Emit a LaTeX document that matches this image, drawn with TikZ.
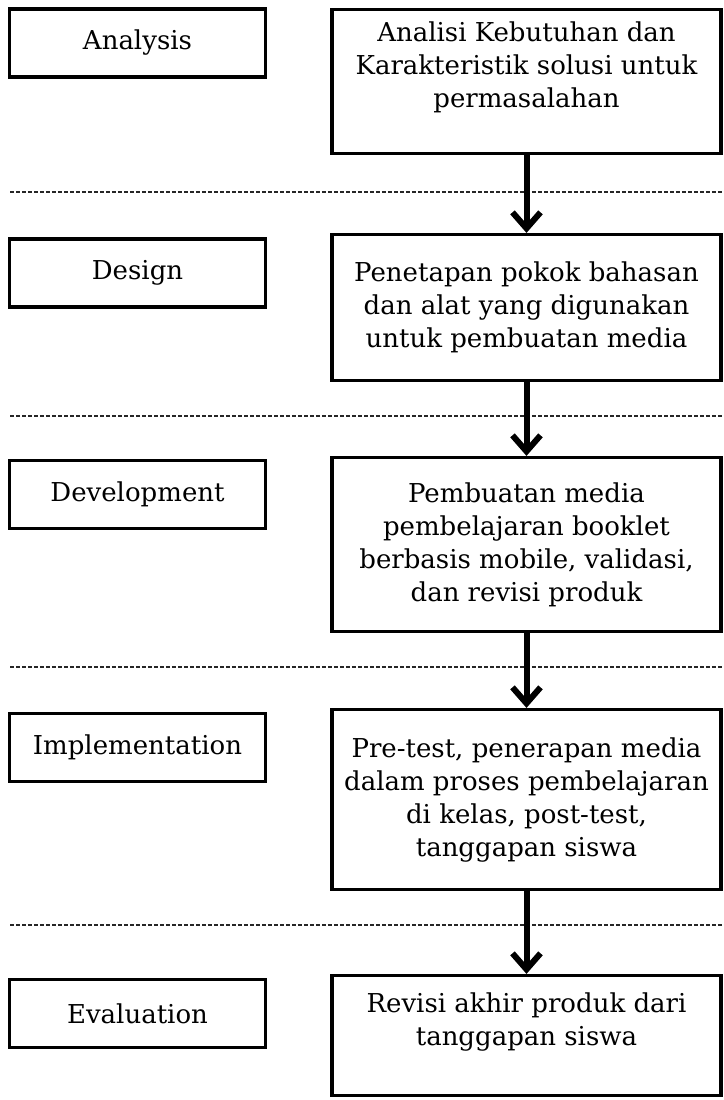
\documentclass[tikz,border=0pt]{standalone}
\usepackage{fontspec}
\setmainfont{DejaVu Serif}
\usetikzlibrary{arrows.meta,positioning}

\begin{document}
\begin{tikzpicture}[x=0.5pt, y=-0.5pt, font=\fontsize{13}{16.5}\selectfont,
   stage/.style={rectangle, draw=black, line width=1.6pt, minimum width=128pt, minimum height=34pt, inner sep=0pt},
   task/.style={rectangle, draw=black, line width=1.6pt, minimum width=194.5pt, align=center, inner sep=0pt},
   sep/.style={draw=black!85, line width=0.6pt, dash pattern=on 2.2pt off 0.8pt}]
   \useasboundingbox (0,0) rectangle (724,1100);
   % phases on the left
   \node[stage] (a1) at (137.5,43) {Analysis};
   \node[stage] (a2) at (137.5,273) {Design};
   \node[stage] (a3) at (137.5,494.5) {Development};
   \node[stage] (a4) at (137.5,747.5) {Implementation};
   \node[stage] (a5) at (137.5,1013.5) {Evaluation};
   % activities on the right
   \node[task, minimum height=72pt] (b1) at (526.5,81.5) {Analisi Kebutuhan dan\\Karakteristik solusi untuk\\permasalahan\\~};
   \node[task, minimum height=73pt] (b2) at (526.5,307.5) {Penetapan pokok bahasan\\dan alat yang digunakan\\untuk pembuatan media};
   \node[task, minimum height=87pt] (b3) at (526.5,544.5) {Pembuatan media\\pembelajaran booklet\\berbasis mobile, validasi,\\dan revisi produk};
   \node[task, minimum height=90pt] (b4) at (526.5,799.5) {Pre-test, penerapan media\\dalam proses pembelajaran\\di kelas, post-test,\\tanggapan siswa};
   \node[task, minimum height=60pt] (b5) at (526.5,1035.5) {Revisi akhir produk dari\\tanggapan siswa\\~};
   % separators
   \draw[sep] (10,192) -- (724,192);
   \draw[sep] (10,416) -- (724,416);
   \draw[sep] (10,667) -- (724,667);
   \draw[sep] (10,925) -- (724,925);
   \begin{scope}[-{Straight Barb[length=8pt,width=14pt]}, every edge/.style={draw=black, line width=3pt}]
    \draw (b1) edge (b2);
    \draw (b2) edge (b3);
    \draw (b3) edge (b4);
    \draw (b4) edge (b5);
   \end{scope}
\end{tikzpicture}
\end{document}
